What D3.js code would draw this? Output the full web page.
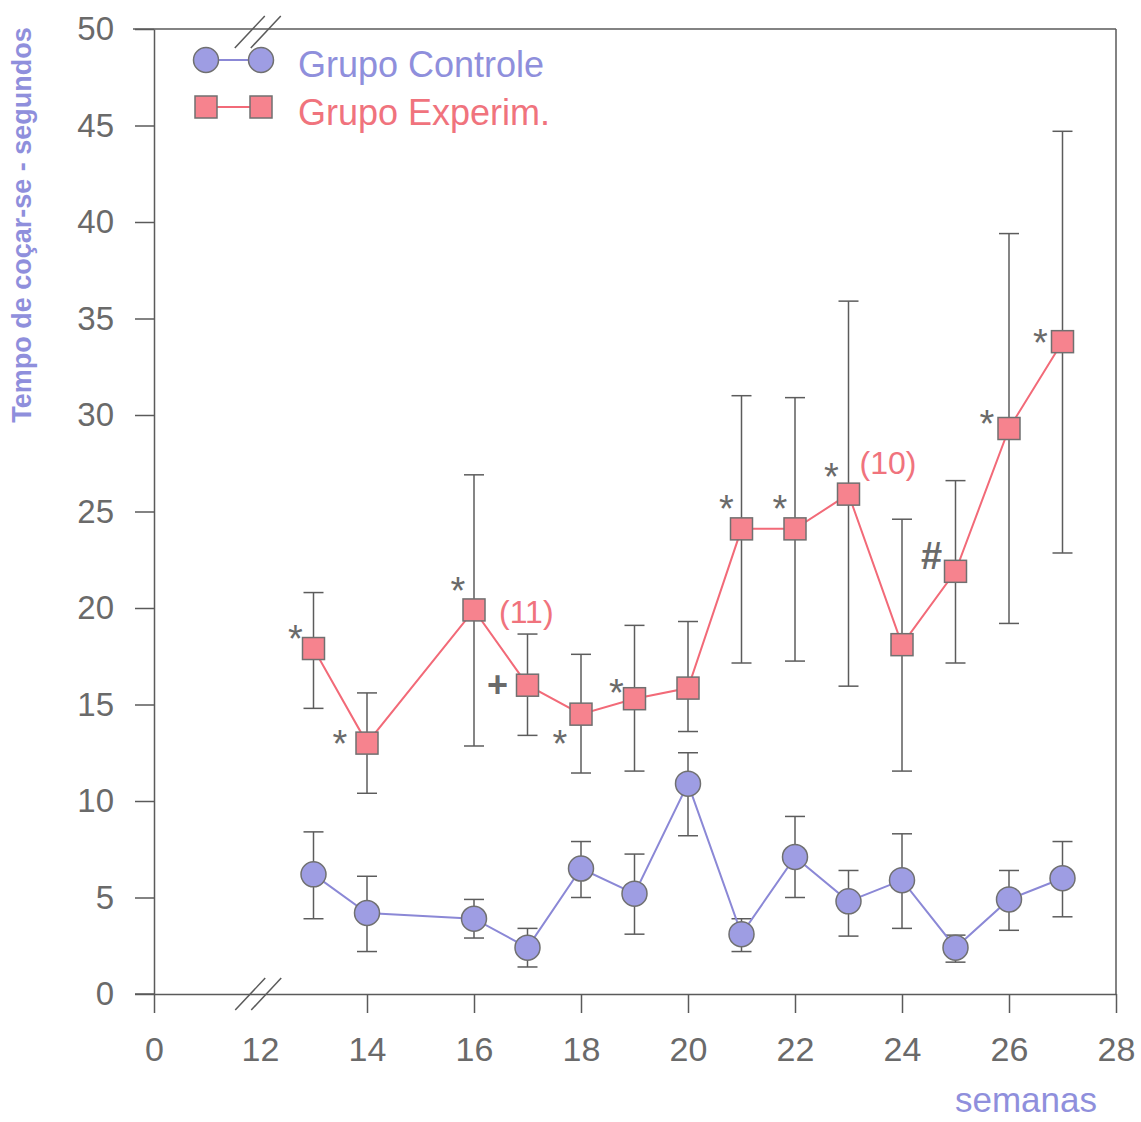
<!DOCTYPE html>
<html>
<head>
<meta charset="utf-8">
<script src="https://cdn.jsdelivr.net/npm/d3@7"></script>
<style>
  html, body { margin: 0; padding: 0; background: #fff; }
  svg { display: block; font-family: Arial, "Liberation Sans", sans-serif; }
</style>
</head>
<body>
<svg id="chart" width="1141" height="1122"></svg>
<script>
// ---- data ----
const weeks = [13, 14, 16, 17, 18, 19, 20, 21, 22, 23, 24, 25, 26, 27];
const controlMean = [6.2, 4.2, 3.9, 2.4, 6.5, 5.2, 10.9, 3.1, 7.1, 4.8, 5.9, 2.4, 4.9, 6.0];
const controlHigh = [8.4, 6.1, 4.9, 3.4, 7.9, 7.25, 12.5, 3.9, 9.2, 6.4, 8.3, 3.05, 6.4, 7.9];
const controlLow  = [3.9, 2.2, 2.9, 1.4, 5.0, 3.1, 8.2, 2.2, 5.0, 3.0, 3.4, 1.65, 3.3, 4.0];
const expMean = [17.9, 13.0, 19.9, 16.0, 14.5, 15.3, 15.85, 24.1, 24.1, 25.9, 18.1, 21.9, 29.3, 33.8];
const expHigh = [20.8, 15.6, 26.9, 18.65, 17.6, 19.1, 19.3, 31.0, 30.9, 35.9, 24.6, 26.6, 39.4, 44.7];
const expLow  = [14.8, 10.4, 12.85, 13.4, 11.45, 11.55, 13.6, 17.15, 17.25, 15.95, 11.55, 17.15, 19.2, 22.85];
const yTicks = [0, 5, 10, 15, 20, 25, 30, 35, 40, 45, 50];
const xTicks = [0, 12, 14, 16, 18, 20, 22, 24, 26, 28];
const seriesNames = ["Grupo Controle", "Grupo Experim."];
const yTitle = "Tempo de coçar-se - segundos";
const xTitle = "semanas";
// significance marks attached to experimental points: [week, symbol]
const marks = [[13, "*"], [14, "*"], [16, "*"], [16, "(11)"], [17, "+"], [18, "*"], [19, "*"],
               [21, "*"], [22, "*"], [23, "*"], [23, "(10)"], [25, "#"], [26, "*"], [27, "*"]];
// placement offsets (px) of each mark relative to its point
const markOffsets = [[-18, -19], [-27, -8], [-16, -28], [25, 2], [-30, 0], [-21, 21], [-18, -15],
                     [-15, -29], [-15, -29], [-17, -26], [11, -31], [-24, -15], [-22, -14], [-22, -8]];

// ---- styles ----
const C = {
  axis: "#5a5a5a", tickText: "#6a6a6a", lav: "#8f8fdc", lavLine: "#8b88d6",
  circFill: "#9e9de3", red: "#f0737d", redLine: "#f26a78", sqFill: "#f6838e",
  markerStroke: "#707070", err: "#5c5c5c", mark: "#6a6a6a"
};

const svg = d3.select("#chart");
const x = d3.scaleLinear().domain([0, 12, 28]).range([154, 260, 1116]);
const y = d3.scaleLinear().domain([0, 50]).range([994, 29]);

// frame: top & right lines
svg.append("line").attr("x1", 133).attr("x2", x(28)).attr("y1", y(50)).attr("y2", y(50))
  .attr("stroke", C.axis).attr("stroke-width", 1.5);
svg.append("line").attr("x1", x(28)).attr("x2", x(28)).attr("y1", y(50)).attr("y2", y(0))
  .attr("stroke", C.axis).attr("stroke-width", 1.5);

// y axis
const yAxis = svg.append("g").attr("transform", `translate(${x(0)},0)`)
  .call(d3.axisLeft(y).tickValues(yTicks).tickSize(19).tickPadding(21).tickSizeOuter(0));
yAxis.select(".domain").attr("stroke", C.axis).attr("stroke-width", 1.5);
yAxis.selectAll(".tick line").attr("stroke", C.axis).attr("stroke-width", 1.5);
yAxis.selectAll(".tick text").attr("fill", C.tickText).attr("font-size", 33)
  .attr("font-family", "Arial, 'Liberation Sans', sans-serif");

// x axis
const xAxis = svg.append("g").attr("transform", `translate(0,${y(0)})`)
  .call(d3.axisBottom(x).tickValues(xTicks).tickSize(19).tickPadding(24).tickSizeOuter(0));
xAxis.select(".domain").attr("stroke", C.axis).attr("stroke-width", 1.5);
xAxis.selectAll(".tick line").attr("stroke", C.axis).attr("stroke-width", 1.5)
  .attr("opacity", d => d === 12 ? 0 : 1);
xAxis.selectAll(".tick text").attr("fill", C.tickText).attr("font-size", 34)
  .attr("font-family", "Arial, 'Liberation Sans', sans-serif");
// extend x axis line slightly left of the y axis
svg.append("line").attr("x1", 135).attr("x2", x(0)).attr("y1", y(0)).attr("y2", y(0))
  .attr("stroke", C.axis).attr("stroke-width", 1.5);

// axis break marks
function breakMarks(cx, cy) {
  [-8, 8].forEach(o => {
    svg.append("line")
      .attr("x1", cx + o - 15).attr("y1", cy + 16)
      .attr("x2", cx + o + 15).attr("y2", cy - 16)
      .attr("stroke", C.axis).attr("stroke-width", 1.5);
  });
}
breakMarks(x(11.8), y(0));
breakMarks(x(11.75), y(50) + 3);

// axis titles
svg.append("text").attr("transform", `translate(31,225) rotate(-90)`)
  .attr("text-anchor", "middle").attr("font-size", 27).attr("font-weight", "bold")
  .attr("fill", C.lav).text(yTitle);
svg.append("text").attr("x", 1097).attr("y", 1112).attr("text-anchor", "end")
  .attr("font-size", 35).attr("fill", C.lav).text(xTitle);

// error bars
function errorBars(lo, hi) {
  const g = svg.append("g").attr("stroke", C.err).attr("stroke-width", 1.5);
  weeks.forEach((w, i) => {
    const cx = x(w);
    g.append("line").attr("x1", cx).attr("x2", cx).attr("y1", y(lo[i])).attr("y2", y(hi[i]));
    [lo[i], hi[i]].forEach(v => g.append("line").attr("x1", cx - 10).attr("x2", cx + 10)
      .attr("y1", y(v)).attr("y2", y(v)));
  });
}
errorBars(controlLow, controlHigh);
errorBars(expLow, expHigh);

const line = d3.line().x(d => x(d[0])).y(d => y(d[1]));
// control series
svg.append("path").datum(weeks.map((w, i) => [w, controlMean[i]])).attr("d", line)
  .attr("fill", "none").attr("stroke", C.lavLine).attr("stroke-width", 2);
svg.append("g").selectAll("circle").data(weeks.map((w, i) => [w, controlMean[i]])).join("circle")
  .attr("cx", d => x(d[0])).attr("cy", d => y(d[1])).attr("r", 12.5)
  .attr("fill", C.circFill).attr("stroke", C.markerStroke).attr("stroke-width", 1.5);
// experimental series
svg.append("path").datum(weeks.map((w, i) => [w, expMean[i]])).attr("d", line)
  .attr("fill", "none").attr("stroke", C.redLine).attr("stroke-width", 2);
svg.append("g").selectAll("rect").data(weeks.map((w, i) => [w, expMean[i]])).join("rect")
  .attr("x", d => x(d[0]) - 11).attr("y", d => y(d[1]) - 11).attr("width", 22).attr("height", 22)
  .attr("fill", C.sqFill).attr("stroke", C.markerStroke).attr("stroke-width", 1.5);

// significance marks
const symStyle = {
  "*": { size: 38, weight: "normal", shift: 22, color: C.mark, anchor: "middle" },
  "+": { size: 36, weight: "bold", shift: 12, color: C.mark, anchor: "middle" },
  "#": { size: 38, weight: "bold", shift: 13, color: C.mark, anchor: "middle" },
  "paren": { size: 32, weight: "normal", shift: 11, color: C.red, anchor: "start" }
};
marks.forEach(([w, s], i) => {
  const st = symStyle[s] || symStyle.paren;
  const idx = weeks.indexOf(w);
  svg.append("text")
    .attr("x", x(w) + markOffsets[i][0])
    .attr("y", y(expMean[idx]) + markOffsets[i][1] + st.shift)
    .attr("text-anchor", st.anchor).attr("font-size", st.size).attr("font-weight", st.weight)
    .attr("fill", st.color).text(s);
});

// legend
const lg = svg.append("g");
lg.append("line").attr("x1", 206).attr("x2", 261).attr("y1", 60).attr("y2", 60)
  .attr("stroke", C.lavLine).attr("stroke-width", 2);
[206, 261].forEach(cx => lg.append("circle").attr("cx", cx).attr("cy", 60).attr("r", 12.5)
  .attr("fill", C.circFill).attr("stroke", C.markerStroke).attr("stroke-width", 1.5));
lg.append("text").attr("x", 298).attr("y", 77).attr("font-size", 36).attr("fill", C.lav).text(seriesNames[0]);
lg.append("line").attr("x1", 206).attr("x2", 261).attr("y1", 107).attr("y2", 107)
  .attr("stroke", C.redLine).attr("stroke-width", 2);
[206, 261].forEach(cx => lg.append("rect").attr("x", cx - 11).attr("y", 96).attr("width", 22).attr("height", 22)
  .attr("fill", C.sqFill).attr("stroke", C.markerStroke).attr("stroke-width", 1.5));
lg.append("text").attr("x", 298).attr("y", 125).attr("font-size", 36).attr("fill", C.red).text(seriesNames[1]);
</script>
</body>
</html>
